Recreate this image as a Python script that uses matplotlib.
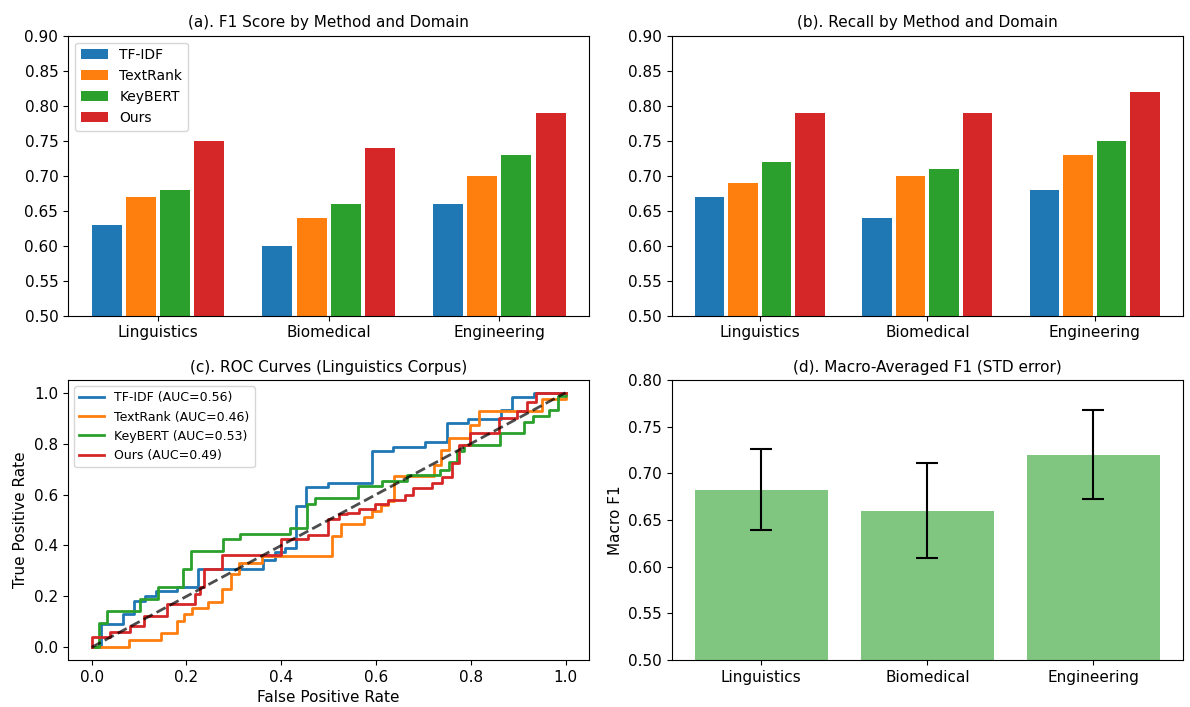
import numpy as np
import matplotlib
matplotlib.use("Agg")
import matplotlib.pyplot as plt

domains = ["Linguistics", "Biomedical", "Engineering"]
methods = ["TF-IDF", "TextRank", "KeyBERT", "Ours"]
colors = ["tab:blue", "tab:orange", "tab:green", "tab:red"]

f1_scores = {
    "TF-IDF":   [0.63, 0.60, 0.66],
    "TextRank": [0.67, 0.64, 0.70],
    "KeyBERT":  [0.68, 0.66, 0.73],
    "Ours":     [0.75, 0.74, 0.79],
}
recall_scores = {
    "TF-IDF":   [0.67, 0.64, 0.68],
    "TextRank": [0.69, 0.70, 0.73],
    "KeyBERT":  [0.72, 0.71, 0.75],
    "Ours":     [0.79, 0.79, 0.82],
}

auc_values = [0.56, 0.46, 0.53, 0.49]

tfidf_fpr = [0.0, 0.02, 0.02, 0.066, 0.066, 0.089, 0.089, 0.112, 0.112, 0.135, 0.135, 0.18, 0.18, 0.224, 0.224,
             0.362, 0.362, 0.387, 0.387, 0.407, 0.407, 0.431, 0.431, 0.452, 0.452, 0.498, 0.498, 0.591, 0.591,
             0.636, 0.636, 0.704, 0.704, 0.75, 0.75, 0.794, 0.794, 0.863, 0.863, 0.886, 0.886, 0.933, 0.933, 1.0]
tfidf_tpr = [0.0, 0.0, 0.09, 0.09, 0.13, 0.13, 0.18, 0.18, 0.20, 0.20, 0.223, 0.223, 0.236, 0.236, 0.306,
             0.306, 0.341, 0.341, 0.376, 0.376, 0.391, 0.391, 0.554, 0.554, 0.629, 0.629, 0.644, 0.644, 0.773,
             0.773, 0.788, 0.788, 0.807, 0.807, 0.881, 0.881, 0.898, 0.898, 0.933, 0.933, 0.985, 0.985, 1.0, 1.0]

textrank_fpr = [0.0, 0.079, 0.079, 0.146, 0.146, 0.179, 0.179, 0.194, 0.194, 0.211, 0.211, 0.245, 0.245, 0.274,
                0.274, 0.293, 0.293, 0.311, 0.311, 0.36, 0.36, 0.508, 0.508, 0.526, 0.526, 0.574, 0.574, 0.591,
                0.591, 0.61, 0.61, 0.625, 0.625, 0.638, 0.638, 0.722, 0.722, 0.738, 0.738, 0.753, 0.753, 0.799,
                0.799, 0.818, 0.818, 0.951, 0.951, 1.0, 1.0]
textrank_tpr = [0.0, 0.0, 0.027, 0.027, 0.057, 0.057, 0.103, 0.103, 0.129, 0.129, 0.155, 0.155, 0.179, 0.179,
                0.227, 0.227, 0.286, 0.286, 0.332, 0.332, 0.358, 0.358, 0.437, 0.437, 0.485, 0.485, 0.511, 0.511,
                0.537, 0.537, 0.558, 0.558, 0.574, 0.574, 0.671, 0.671, 0.718, 0.718, 0.774, 0.774, 0.822, 0.822,
                0.875, 0.875, 0.927, 0.927, 0.976, 0.976, 1.0]

keybert_fpr = [0.0, 0.015, 0.015, 0.033, 0.033, 0.101, 0.101, 0.139, 0.139, 0.193, 0.193, 0.209, 0.209, 0.278,
               0.278, 0.313, 0.313, 0.419, 0.419, 0.454, 0.454, 0.471, 0.471, 0.561, 0.561, 0.612, 0.612, 0.665,
               0.665, 0.736, 0.736, 0.753, 0.753, 0.771, 0.771, 0.785, 0.785, 0.861, 0.861, 0.912, 0.912, 0.931,
               0.931, 0.965, 0.965, 0.985, 0.985, 1.0, 1.0]
keybert_tpr = [0.0, 0.0, 0.097, 0.097, 0.142, 0.142, 0.188, 0.188, 0.236, 0.236, 0.306, 0.306, 0.38, 0.38,
               0.424, 0.424, 0.446, 0.446, 0.469, 0.469, 0.561, 0.561, 0.587, 0.587, 0.633, 0.633, 0.655, 0.655,
               0.676, 0.676, 0.698, 0.698, 0.727, 0.727, 0.77, 0.77, 0.796, 0.796, 0.842, 0.842, 0.884, 0.884,
               0.91, 0.91, 0.931, 0.931, 0.986, 0.986, 1.0]

ours_fpr = [0.0, 0.0, 0.038, 0.038, 0.08, 0.08, 0.11, 0.11, 0.158, 0.158, 0.218, 0.218, 0.228, 0.228, 0.237,
            0.237, 0.276, 0.276, 0.40, 0.40, 0.457, 0.457, 0.498, 0.498, 0.521, 0.521, 0.538, 0.538, 0.563,
            0.563, 0.598, 0.598, 0.626, 0.626, 0.662, 0.662, 0.679, 0.679, 0.718, 0.718, 0.739, 0.739, 0.76,
            0.76, 0.775, 0.775, 0.799, 0.799, 0.859, 0.859, 0.898, 0.898, 0.919, 0.919, 0.937, 0.937, 1.0]
ours_tpr = [0.0, 0.042, 0.042, 0.061, 0.061, 0.084, 0.084, 0.123, 0.123, 0.171, 0.171, 0.208, 0.208, 0.236,
            0.236, 0.306, 0.306, 0.362, 0.362, 0.424, 0.424, 0.443, 0.443, 0.502, 0.502, 0.522, 0.522, 0.528,
            0.528, 0.545, 0.545, 0.563, 0.563, 0.58, 0.58, 0.60, 0.60, 0.624, 0.624, 0.646, 0.646, 0.668,
            0.668, 0.724, 0.724, 0.796, 0.796, 0.842, 0.842, 0.901, 0.901, 0.927, 0.927, 0.962, 0.962, 1.0, 1.0]

roc_fpr = [tfidf_fpr, textrank_fpr, keybert_fpr, ours_fpr]
roc_tpr = [tfidf_tpr, textrank_tpr, keybert_tpr, ours_tpr]

f1_matrix = np.array([f1_scores[m] for m in methods])
macro_f1 = f1_matrix.mean(axis=0)
macro_std = f1_matrix.std(axis=0)

fig = plt.figure(figsize=(11.9, 7.07), dpi=100)
W, H = 1190, 707

def rect(l, t, r, b):
    return [l / W, 1 - b / H, (r - l) / W, (b - t) / H]

ax_a = fig.add_axes(rect(68, 35.7, 589.3, 315.7))
ax_b = fig.add_axes(rect(671.7, 35.7, 1183, 315.7))
ax_c = fig.add_axes(rect(68, 380, 589.3, 660))
ax_d = fig.add_axes(rect(671.7, 380, 1183, 660))

x = np.arange(len(domains))
bw = 0.2
for ax, data, title in [(ax_a, f1_scores, "(a). F1 Score by Method and Domain"),
                        (ax_b, recall_scores, "(b). Recall by Method and Domain")]:
    for i, m in enumerate(methods):
        ax.bar(x + (i - 1.5) * bw, data[m], width=bw * 0.88, color=colors[i], label=m)
    ax.set_xticks(x)
    ax.set_xticklabels(domains, fontsize=11)
    ax.set_ylim(0.5, 0.9)
    ax.set_yticks(np.arange(0.5, 0.901, 0.05))
    ax.set_yticklabels([f"{v:.2f}" for v in np.arange(0.5, 0.901, 0.05)], fontsize=11)
    ax.set_title(title, fontsize=11)
ax_a.legend(loc="upper left", fontsize=10)

for i, m in enumerate(methods):
    ax_c.plot(roc_fpr[i], roc_tpr[i], color=colors[i], lw=2, label=f"{m} (AUC={auc_values[i]:.2f})")
ax_c.plot([0, 1], [0, 1], "k--", lw=2, alpha=0.7)
ax_c.set_xlabel("False Positive Rate", fontsize=11)
ax_c.set_ylabel("True Positive Rate", fontsize=11)
ax_c.set_title("(c). ROC Curves (Linguistics Corpus)", fontsize=11)
ax_c.tick_params(labelsize=11)
ax_c.legend(loc="upper left", fontsize=9)

ax_d.bar(x, macro_f1, yerr=macro_std, capsize=8, color="tab:green", alpha=0.6,
         error_kw=dict(elinewidth=1.5, capthick=1.5))
ax_d.set_xticks(x)
ax_d.set_xticklabels(domains, fontsize=11)
ax_d.set_ylim(0.5, 0.8)
ax_d.set_ylabel("Macro F1", fontsize=11)
ax_d.set_title("(d). Macro-Averaged F1 (STD error)", fontsize=11)
ax_d.tick_params(labelsize=11)

fig.savefig("out.png", dpi=100)
